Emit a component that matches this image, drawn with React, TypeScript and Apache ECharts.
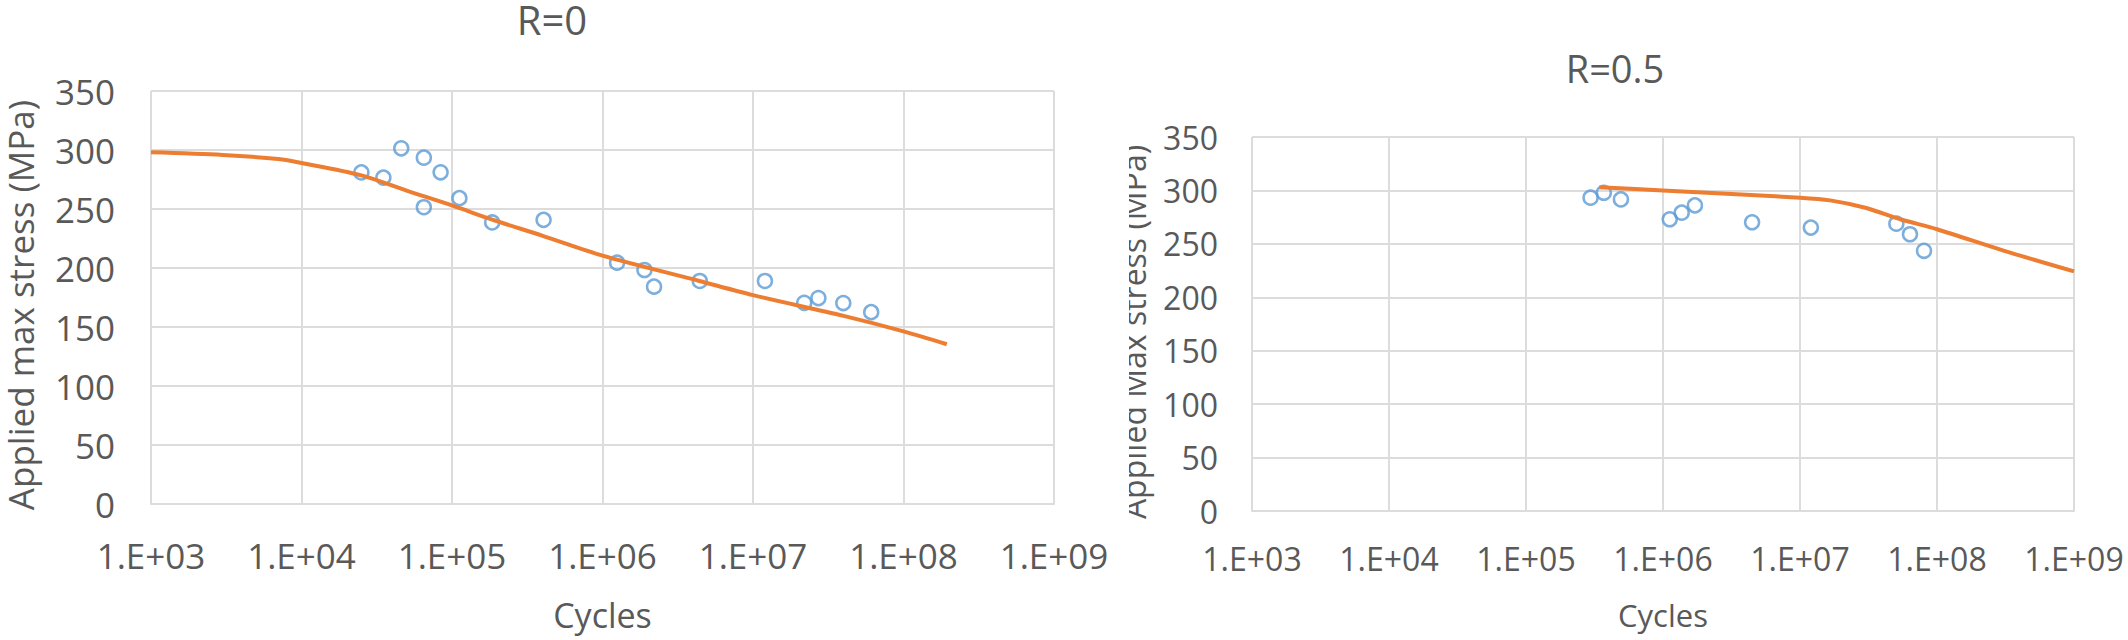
import React, { useEffect, useRef } from "react";
import * as echarts from "echarts";

// ---- Data ----
const TITLES = ["R=0", "R=0.5"];
const Y_NAMES = ["Applied max stress (MPa)", "Applied Max stress (MPa)"];
const X_NAME = "Cycles";

// R=0 test points
const R0_N = [2.5e4, 3.5e4, 4.6e4, 6.5e4, 6.5e4, 8.4e4, 1.12e5, 1.85e5, 4.06e5, 1.25e6, 1.9e6, 2.2e6, 4.43e6, 1.2e7, 2.19e7, 2.72e7, 3.98e7, 6.1e7];
const R0_S = [281, 276.6, 301.4, 293.5, 251.5, 281.1, 259.2, 238.6, 240.8, 204.5, 198.3, 184.2, 189, 189, 170.5, 174.5, 170.3, 162.6];
// R=0 fitted curve
const R0_FIT_N = [1e3, 3e3, 7e3, 1e4, 2.5e4, 5e4, 1e5, 1.85e5, 4e5, 1e6, 4.4e6, 1e7, 4e7, 1e8, 1.94e8];
const R0_FIT_S = [298, 295.8, 292.3, 289, 278.5, 265.5, 253, 241, 227.3, 210.5, 189, 177, 159.4, 146.3, 135.4];

// R=0.5 test points
const R05_N = [2.96e5, 3.7e5, 4.93e5, 1.12e6, 1.37e6, 1.71e6, 4.47e6, 1.2e7, 5.05e7, 6.35e7, 8.04e7];
const R05_S = [293.2, 297.8, 291.6, 273, 279.2, 286, 270.2, 265.2, 268.9, 259, 243.5];
// R=0.5 fitted curve
const R05_FIT_N = [3.43e5, 1e6, 1e7, 1.66e7, 3e7, 5.4e7, 1e8, 3.1e8, 1e9];
const R05_FIT_S = [303, 300, 293.2, 290.7, 283.8, 273, 263.7, 243.5, 224.2];

const X_MIN = 1e3;
const X_MAX = 1e9;
const Y_MIN = 0;
const Y_MAX = 350;
const Y_STEP = 50;

const zip = (a: number[], b: number[]) => a.map((v, i) => [v, b[i]]);

const TEXT = "#595959";
const GRID = "#dcdcdc";
const FONT = "'Open Sans', 'Noto Sans', sans-serif";

const fmtExp = (v: number) => {
  const e = Math.round(Math.log10(v));
  return "1.E+" + String(e).padStart(2, "0");
};

export default function App() {
  const ref = useRef<HTMLDivElement>(null);

  useEffect(() => {
    if (!ref.current) return;
    const chart = echarts.init(ref.current, undefined, { renderer: "svg" });

    const makeX = (gi: number, fs: number, margin: number, nameFs: number, nameGap: number) => ({
      type: "log",
      logBase: 10,
      gridIndex: gi,
      min: X_MIN,
      max: X_MAX,
      axisLine: { show: true, lineStyle: { color: GRID, width: 2 } },
      axisTick: { show: false },
      splitLine: { show: true, lineStyle: { color: GRID, width: 2 } },
      axisLabel: { formatter: fmtExp, color: TEXT, fontSize: fs, margin, fontFamily: FONT },
      name: X_NAME,
      nameLocation: "middle",
      nameGap,
      nameTextStyle: { color: TEXT, fontSize: nameFs, fontFamily: FONT },
    });
    const makeY = (gi: number, fs: number, margin: number) => ({
      type: "value",
      gridIndex: gi,
      min: Y_MIN,
      max: Y_MAX,
      interval: Y_STEP,
      axisLine: { show: false },
      axisTick: { show: false },
      splitLine: { show: true, lineStyle: { color: GRID, width: 2 } },
      axisLabel: { color: TEXT, fontSize: fs, margin, fontFamily: FONT },
    });

    const scatter = (xi: number, data: number[][]) => ({
      type: "scatter",
      xAxisIndex: xi,
      yAxisIndex: xi,
      data,
      symbol: "circle",
      symbolSize: 14,
      itemStyle: { color: "rgba(255,255,255,0)", borderColor: "#5b9bd5", borderWidth: 2.5 },
      z: 2,
    });
    const fit = (xi: number, data: number[][]) => ({
      type: "line",
      xAxisIndex: xi,
      yAxisIndex: xi,
      data,
      showSymbol: false,
      smooth: 0.3,
      lineStyle: { color: "#ed7d31", width: 4 },
      z: 3,
    });

    chart.setOption({
      animation: false,
      backgroundColor: "#ffffff",
      textStyle: { fontFamily: FONT },
      grid: [
        { left: 151, top: 91, width: 903, height: 413 },
        { left: 1252, top: 137, width: 822, height: 374 },
      ],
      xAxis: [makeX(0, 35, 34, 34, 94), makeX(1, 32, 31, 31, 88)],
      yAxis: [makeY(0, 35, 36), makeY(1, 32, 34)],
      series: [
        scatter(0, zip(R0_N, R0_S)),
        fit(0, zip(R0_FIT_N, R0_FIT_S)),
        scatter(1, zip(R05_N, R05_S)),
        fit(1, zip(R05_FIT_N, R05_FIT_S)),
      ],
      graphic: [
        {
          type: "text",
          x: 552,
          y: 19,
          style: { text: TITLES[0], fontSize: 40, fontFamily: FONT, fill: TEXT, align: "center", verticalAlign: "middle" },
        },
        {
          type: "text",
          x: 1615,
          y: 68,
          style: { text: TITLES[1], fontSize: 38, fontFamily: FONT, fill: TEXT, align: "center", verticalAlign: "middle" },
        },
        {
          type: "text",
          x: 20,
          y: 305,
          rotation: Math.PI / 2,
          style: { text: Y_NAMES[0], fontSize: 35, fontFamily: FONT, fill: TEXT, align: "center", verticalAlign: "middle" },
        },
        {
          type: "text",
          x: 1133,
          y: 332,
          rotation: Math.PI / 2,
          style: { text: Y_NAMES[1], fontSize: 32, fontFamily: FONT, fill: TEXT, align: "center", verticalAlign: "middle" },
          z: 10,
        },
        {
          type: "rect",
          shape: { x: 1095, y: 120, width: 34, height: 415 },
          style: { fill: "#ffffff" },
          z: 20,
        },
      ],
    });

    return () => chart.dispose();
  }, []);

  return (
    <div
      ref={ref}
      style={{ position: "absolute", left: 0, top: 0, width: 2128, height: 640, background: "#fff" }}
    />
  );
}
